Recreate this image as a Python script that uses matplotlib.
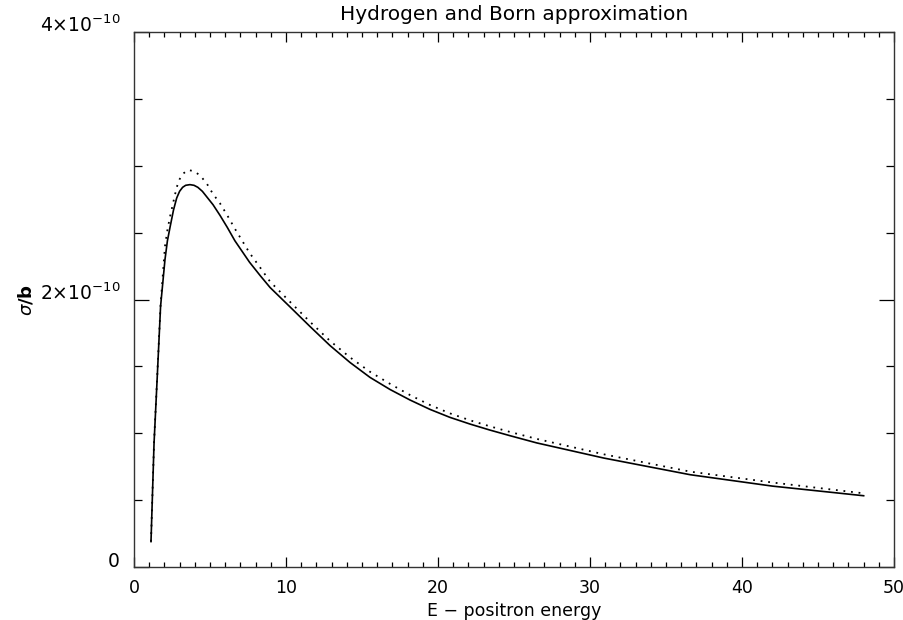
import numpy as np
import matplotlib
matplotlib.use('Agg')
import matplotlib.pyplot as plt
from matplotlib.ticker import MultipleLocator

# cross sections, in units of 1e-10
energy = [1.12, 1.32, 1.53, 1.75, 2.04, 2.2, 2.37, 2.6, 2.81, 3.0, 3.2, 3.4, 3.68, 3.95, 4.2,
          4.5, 4.78, 5.2, 5.66, 6.14, 6.64, 7.6, 8.3, 8.95, 10.26, 11.58, 12.89, 14.21, 15.53,
          16.84, 18.16, 19.47, 20.79, 22.11, 23.42, 24.74, 26.5, 30.9, 36.6, 42.0, 48.0]
sigma_solid = [0.19, 0.925, 1.42, 1.95, 2.30, 2.44, 2.54, 2.67, 2.76, 2.81, 2.84, 2.855, 2.86,
               2.855, 2.84, 2.81, 2.77, 2.71, 2.63, 2.54, 2.44, 2.28, 2.18, 2.091, 1.946, 1.799,
               1.657, 1.530, 1.418, 1.328, 1.249, 1.179, 1.119, 1.069, 1.024, 0.982, 0.928,
               0.815, 0.690, 0.605, 0.533]
energy_born = [1.12, 1.32, 1.53, 1.75, 2.04, 2.2, 2.37, 2.59, 2.81, 3.0, 3.2, 3.57, 3.95, 4.34,
               4.78, 5.2, 5.66, 6.14, 6.64, 7.6, 8.3, 8.95, 10.26, 11.58, 12.89, 14.21, 15.53,
               16.84, 18.16, 19.47, 20.79, 22.11, 23.42, 24.74, 26.5, 30.9, 36.6, 42.0, 48.0]
sigma_born = [0.19, 0.93, 1.43, 1.96, 2.40, 2.52, 2.62, 2.73, 2.84, 2.90, 2.94, 2.97, 2.96, 2.93,
              2.87, 2.79, 2.72, 2.63, 2.53, 2.35, 2.24, 2.135, 1.984, 1.834, 1.692, 1.568, 1.46,
              1.37, 1.286, 1.212, 1.149, 1.097, 1.052, 1.01, 0.958, 0.843, 0.713, 0.632, 0.551]

yticks = [0, 2e-10, 4e-10]
ytick_labels = ['0', r'2$\times$10$^{-10}$', r'4$\times$10$^{-10}$']
xticks = [0, 10, 20, 30, 40, 50]

plt.rcParams['font.family'] = ['DejaVu Sans']
plt.rcParams['mathtext.fontset'] = 'dejavusans'

fig = plt.figure(figsize=(9.04, 6.2), dpi=100)
ax = fig.add_axes([0.1482, 0.0855, 0.989 - 0.1482, 0.948 - 0.0855])

ax.plot(energy, np.array(sigma_solid) * 1e-10, color='black', lw=1.2)
ax.plot(energy_born, np.array(sigma_born) * 1e-10, color='black', lw=1.3,
        linestyle=(0, (1, 3.2)))

ax.set_xlim(0, 50)
ax.set_ylim(0, 4e-10)
ax.set_xticks(xticks)
ax.set_xticklabels([str(t) for t in xticks])
ax.set_yticks(yticks)
ax.set_yticklabels(ytick_labels, fontsize=13.5)
for lbl in ax.get_yticklabels():
    lbl.set_verticalalignment('baseline')
ax.xaxis.set_minor_locator(MultipleLocator(1))
ax.yaxis.set_minor_locator(MultipleLocator(0.5e-10))

ax.tick_params(which='both', direction='in', top=True, right=True, labelsize=12.5,
               colors='black', width=0.9)
ax.tick_params(axis='y', labelsize=13.5)
ax.tick_params(axis='x', which='major', length=7.5, pad=9)
ax.tick_params(axis='x', which='minor', length=3.8)
ax.tick_params(axis='y', which='major', length=11, pad=10)
ax.tick_params(axis='y', which='minor', length=5.5)
for s in ax.spines.values():
    s.set_linewidth(1.0)
    s.set_color('#333333')

ax.set_title('Hydrogen and Born approximation', fontsize=14.5, pad=9)
ax.set_xlabel('E \u2212 positron energy', fontsize=12.5, labelpad=3)
ax.set_ylabel(r'$\sigma$/b', fontsize=13, fontweight='bold', labelpad=3)

fig.savefig('out.png', dpi=100)
